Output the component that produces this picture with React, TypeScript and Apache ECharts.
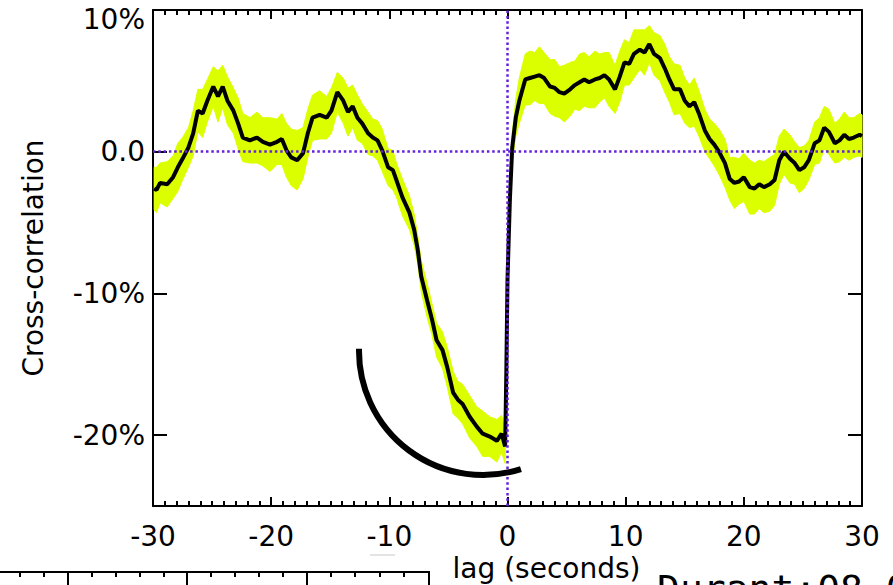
import React, { useEffect, useRef } from "react";
import * as echarts from "echarts";

// lag (seconds)
const LAGS = [
  -29.9, -29.7, -29.4, -28.8, -28.3, -27.9, -27.5, -27.0, -26.6, -26.2,
  -25.8, -25.4, -24.9, -24.5, -24.1, -23.7, -23.2, -22.8, -22.4, -21.8,
  -21.2, -20.7, -20.1, -19.5, -19.1, -18.7, -18.3, -17.8, -17.3, -16.9,
  -16.5, -15.9, -15.3, -14.9, -14.4, -13.9, -13.5, -13.1, -12.7, -12.3,
  -11.8, -11.4, -11.0, -10.6, -10.1, -9.7, -9.4, -8.9, -8.3, -7.9,
  -7.6, -7.3, -6.8, -6.4, -6.0, -5.5, -5.1, -4.6, -4.2, -3.8,
  -3.2, -2.6, -2.1, -1.5, -0.9, -0.5, -0.2, -0.1, 0.0, 0.2,
  0.4, 0.7, 1.0, 1.5, 1.9, 2.3, 2.7, 3.1, 3.6, 4.0,
  4.4, 4.8, 5.3, 5.7, 6.1, 6.5, 6.9, 7.4, 7.8, 8.2,
  8.6, 9.1, 9.5, 9.9, 10.3, 10.7, 11.2, 11.6, 12.0, 12.4,
  12.9, 13.3, 13.7, 14.1, 14.6, 15.0, 15.4, 15.8, 16.2, 16.7,
  17.1, 17.5, 17.9, 18.4, 18.8, 19.2, 19.6, 20.0, 20.5, 20.9,
  21.3, 21.7, 22.2, 22.6, 23.0, 23.4, 23.9, 24.3, 24.7, 25.1,
  25.5, 26.0, 26.4, 26.8, 27.2, 27.7, 28.1, 28.5, 28.9, 29.3,
  29.8, 30.0,
];

// cross-correlation (%)
const CORR = [
  -2.6, -2.7, -2.2, -2.3, -1.8, -1.1, -0.5, 0.3, 1.3, 2.9,
  2.7, 3.6, 4.6, 3.9, 4.6, 3.6, 2.9, 2.0, 1.0, 0.8,
  1.0, 0.7, 0.5, 0.7, 0.9, 0.1, -0.4, -0.6, -0.1, 1.3,
  2.4, 2.6, 2.4, 2.9, 4.2, 3.6, 2.8, 3.2, 2.4, 2.0,
  1.3, 1.0, 0.8, 0.1, -1.1, -1.3, -2.0, -3.2, -4.3, -5.5,
  -6.9, -8.8, -10.5, -11.8, -13.3, -14.0, -15.2, -17.0, -17.5, -17.8,
  -18.7, -19.4, -19.9, -20.1, -20.4, -19.9, -20.8, -15.6, -9.0, -3.4,
  0.3, 2.4, 3.6, 5.1, 5.2, 5.3, 5.4, 5.2, 4.6, 4.5,
  4.2, 4.1, 4.4, 4.7, 4.9, 5.1, 4.9, 5.1, 5.2, 5.4,
  5.1, 4.4, 5.3, 6.3, 6.2, 6.9, 7.2, 7.0, 7.6, 6.9,
  6.6, 5.9, 5.1, 4.4, 4.4, 3.6, 3.2, 3.5, 2.7, 1.5,
  0.9, 0.5, 0.0, -0.8, -1.9, -2.2, -2.1, -1.8, -2.5, -2.6,
  -2.3, -2.5, -2.3, -2.0, -0.6, 0.0, -0.5, -0.8, -1.3, -1.1,
  -0.6, 0.6, 0.8, 1.7, 1.4, 0.6, 0.8, 1.2, 0.9, 1.0,
  1.2, 1.1,
];

// uncertainty half-width (%)
const ERR = [
  1.5, 1.6, 1.4, 1.6, 1.5, 1.7, 1.5, 1.4, 1.6, 1.5,
  1.7, 1.5, 1.4, 1.8, 1.5, 1.7, 1.6, 1.8, 1.7, 1.6,
  1.8, 1.7, 1.9, 1.6, 1.8, 1.9, 2.0, 2.1, 1.8, 1.7,
  1.6, 1.7, 1.5, 1.6, 1.4, 1.6, 1.7, 1.5, 1.6, 1.4,
  1.5, 1.3, 1.4, 1.5, 1.3, 1.4, 1.2, 1.3, 1.2, 1.1,
  1.0, 1.1, 1.2, 1.1, 1.2, 1.3, 1.4, 1.5, 1.3, 1.4,
  1.5, 1.4, 1.6, 1.4, 1.5, 1.3, 1.2, 0.6, 0.6, 0.8,
  1.0, 1.3, 1.6, 1.8, 1.9, 1.7, 2.0, 1.8, 1.9, 2.0,
  1.8, 2.0, 1.9, 1.7, 2.0, 1.9, 1.8, 2.0, 1.7, 1.6,
  1.9, 1.7, 1.8, 1.6, 1.5, 1.7, 1.4, 1.6, 1.3, 1.5,
  1.6, 1.7, 1.6, 1.8, 1.7, 1.6, 1.5, 1.7, 1.6, 1.5,
  1.4, 1.5, 1.6, 1.7, 1.5, 1.8, 1.6, 1.7, 1.9, 1.8,
  1.7, 1.8, 1.9, 1.8, 1.7, 1.6, 1.7, 1.5, 1.6, 1.5,
  1.4, 1.5, 1.6, 1.5, 1.6, 1.4, 1.5, 1.6, 1.5, 1.4,
  1.5, 1.5,
];

const Y_TICKS = [-20, -10, 0, 10];
const X_MIN = -30;
const X_MAX = 30;
const Y_MIN = -25;
const Y_MAX = 10;

const FONT = "DejaVu Sans";
const PURPLE = "#6420dc";
const YELLOW = "#dcff00";

export default function App() {
  const ref = useRef<HTMLDivElement>(null);

  useEffect(() => {
    if (!ref.current) return;
    const chart = echarts.init(ref.current, undefined, { renderer: "svg" });

    const err = (i: number) => (ERR[i] ?? 1.5);
    const bandData = LAGS.map((x, i) => [x, CORR[i] - err(i), CORR[i] + err(i)]);
    const line = LAGS.map((x, i) => [x, CORR[i]]);

    const xCommon = {
      type: "value",
      min: X_MIN,
      max: X_MAX,
      interval: 10,
      axisLine: { onZero: false, lineStyle: { color: "#000", width: 2 } },
      axisTick: { inside: true, length: 9, lineStyle: { color: "#000", width: 2 } },
      minorTick: { show: true, splitNumber: 10, length: 5, lineStyle: { color: "#000", width: 2 } },
      splitLine: { show: false },
    };
    const yCommon = {
      type: "value",
      min: Y_MIN,
      max: Y_MAX,
      axisLine: { onZero: false, lineStyle: { color: "#000", width: 2 } },
      axisTick: {
        inside: true,
        length: 14,
        customValues: Y_TICKS,
        lineStyle: { color: "#000", width: 2 },
      },
      splitLine: { show: false },
    };

    const minorBox: number[] = [20, 44, 92, 116, 140, 164, 211, 235, 259, 283, 331, 355, 380, 404];
    const majorBox: number[] = [68, 187, 307, 429];

    chart.setOption({
      animation: false,
      backgroundColor: "#fff",
      grid: { left: 153, right: 31, top: 10, bottom: 79, containLabel: false, outerBoundsMode: "none" },
      xAxis: [
        {
          ...xCommon,
          position: "bottom",
          name: "lag (seconds)",
          nameLocation: "middle",
          nameGap: 44,
          nameTextStyle: { fontFamily: FONT, fontSize: 28, color: "#000", padding: [0, 0, 0, 78] },
          axisLabel: { fontFamily: FONT, fontSize: 28, color: "#000", margin: 16 },
        },
        {
          ...xCommon,
          position: "top",
          axisLabel: { show: false },
        },
      ],
      yAxis: [
        {
          ...yCommon,
          position: "left",
          name: "Cross-correlation",
          nameLocation: "middle",
          nameGap: 106,
          nameTextStyle: { fontFamily: FONT, fontSize: 28, color: "#000" },
          axisLabel: {
            fontFamily: FONT,
            fontSize: 28,
            color: "#000",
            margin: 8,
            customValues: Y_TICKS,
            formatter: (v: number) =>
              v === Y_MAX ? `{t|${v}%}` : v === 0 ? "0.0" : `${v}%`,
            rich: {
              t: { fontFamily: FONT, fontSize: 28, color: "#000", padding: [18, 0, 0, 0] },
            },
          },
        },
        {
          ...yCommon,
          position: "right",
          axisLabel: { show: false, customValues: Y_TICKS },
        },
      ],
      series: [
        {
          type: "custom",
          data: bandData,
          encode: { x: 0, y: [1, 2] },
          silent: true,
          z: 1,
          renderItem: (params: any, api: any) => {
            if (params.dataIndex !== 0) return null;
            const up = bandData.map((d) => api.coord([d[0], d[2]]));
            const lo = bandData.map((d) => api.coord([d[0], d[1]])).reverse();
            return {
              type: "polygon",
              shape: { points: up.concat(lo) },
              style: { fill: YELLOW, stroke: YELLOW, lineWidth: 1 },
            };
          },
        },
        {
          type: "line",
          data: [[X_MIN, 0]],
          symbol: "none",
          lineStyle: { opacity: 0 },
          silent: true,
          z: 2,
          markLine: {
            silent: true,
            symbol: "none",
            label: { show: false },
            lineStyle: { color: PURPLE, width: 2.5, type: [2.5, 2.8] },
            data: [{ yAxis: 0 }, { xAxis: 0 }],
          },
        },
        {
          type: "line",
          data: line,
          symbol: "none",
          lineStyle: { color: "#000", width: 4 },
          silent: true,
          z: 3,
        },
      ],
      graphic: [
        {
          type: "arc",
          shape: { cx: 483, cy: 351, r: 124, startAngle: 1.26, endAngle: 3.16, clockwise: true },
          style: { stroke: "#000", lineWidth: 6, fill: null },
          z: 10,
        },
        {
          type: "line",
          shape: { x1: 0, y1: 572, x2: 430, y2: 572 },
          style: { stroke: "#000", lineWidth: 2 },
        },
        ...majorBox.map((x) => ({
          type: "line",
          shape: { x1: x, y1: 572, x2: x, y2: 586 },
          style: { stroke: "#000", lineWidth: 2 },
        })),
        ...minorBox.map((x) => ({
          type: "line",
          shape: { x1: x, y1: 572, x2: x, y2: 577 },
          style: { stroke: "#000", lineWidth: 2 },
        })),
        {
          type: "line",
          shape: { x1: 370, y1: 555, x2: 395, y2: 555 },
          style: { stroke: "#c8c8c8", lineWidth: 1 },
        },
        {
          type: "text",
          x: 657,
          y: 589,
          style: {
            text: "Durant:08.0",
            fontFamily: "DejaVu Sans Mono",
            fontSize: 38,
            fill: "#000",
            verticalAlign: "middle",
            align: "left",
          },
          z: 10,
        },
      ],
    });

    return () => chart.dispose();
  }, []);

  return (
    <div
      ref={ref}
      style={{ position: "absolute", left: 0, top: 0, width: 893, height: 585, overflow: "hidden", background: "#fff" }}
    />
  );
}
